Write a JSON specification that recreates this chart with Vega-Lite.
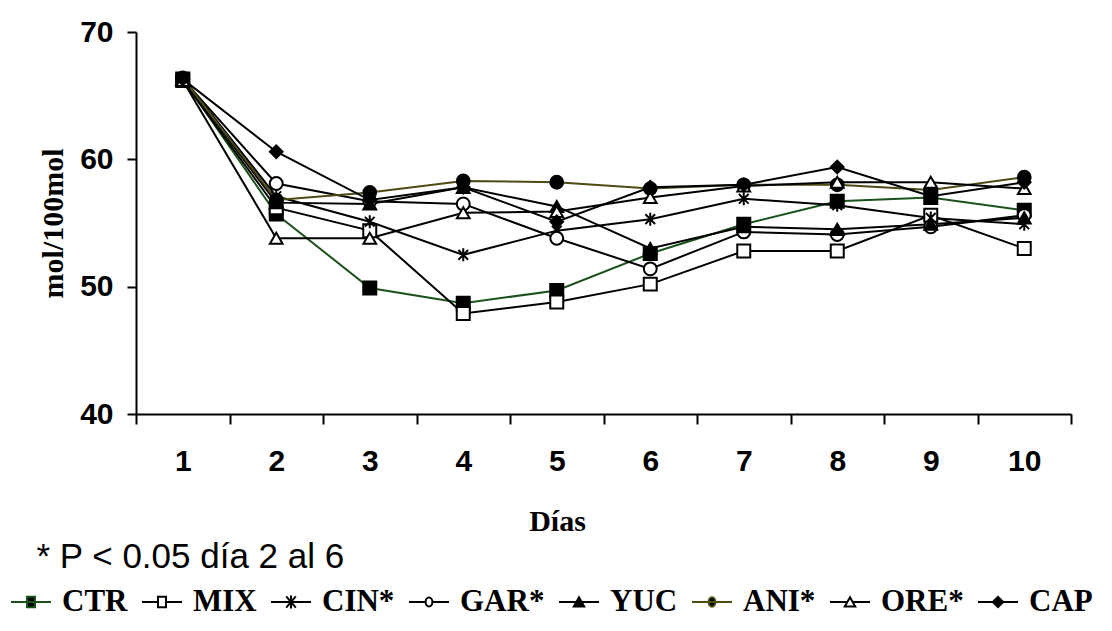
{
  "$schema": "https://vega.github.io/schema/vega-lite/v6.json",
  "width": 935,
  "height": 382,
  "autosize": "none",
  "padding": {"left": 136, "top": 32, "right": 41, "bottom": 217},
  "background": "white",
  "data": {"values": [
    {"day": 1, "series": "CTR", "value": 66.3}, {"day": 2, "series": "CTR", "value": 55.7}, {"day": 3, "series": "CTR", "value": 49.9}, {"day": 4, "series": "CTR", "value": 48.7}, {"day": 5, "series": "CTR", "value": 49.7}, {"day": 6, "series": "CTR", "value": 52.6}, {"day": 7, "series": "CTR", "value": 54.9}, {"day": 8, "series": "CTR", "value": 56.7}, {"day": 9, "series": "CTR", "value": 57.0}, {"day": 10, "series": "CTR", "value": 56.0},
    {"day": 1, "series": "MIX", "value": 66.2}, {"day": 2, "series": "MIX", "value": 56.2}, {"day": 3, "series": "MIX", "value": 54.4}, {"day": 4, "series": "MIX", "value": 47.9}, {"day": 5, "series": "MIX", "value": 48.8}, {"day": 6, "series": "MIX", "value": 50.2}, {"day": 7, "series": "MIX", "value": 52.8}, {"day": 8, "series": "MIX", "value": 52.8}, {"day": 9, "series": "MIX", "value": 55.6}, {"day": 10, "series": "MIX", "value": 53.0},
    {"day": 1, "series": "CIN", "value": 66.4}, {"day": 2, "series": "CIN", "value": 57.1}, {"day": 3, "series": "CIN", "value": 55.1}, {"day": 4, "series": "CIN", "value": 52.5}, {"day": 5, "series": "CIN", "value": 54.4}, {"day": 6, "series": "CIN", "value": 55.3}, {"day": 7, "series": "CIN", "value": 56.9}, {"day": 8, "series": "CIN", "value": 56.4}, {"day": 9, "series": "CIN", "value": 55.4}, {"day": 10, "series": "CIN", "value": 54.9},
    {"day": 1, "series": "GAR", "value": 66.3}, {"day": 2, "series": "GAR", "value": 58.1}, {"day": 3, "series": "GAR", "value": 56.7}, {"day": 4, "series": "GAR", "value": 56.5}, {"day": 5, "series": "GAR", "value": 53.8}, {"day": 6, "series": "GAR", "value": 51.4}, {"day": 7, "series": "GAR", "value": 54.3}, {"day": 8, "series": "GAR", "value": 54.1}, {"day": 9, "series": "GAR", "value": 54.7}, {"day": 10, "series": "GAR", "value": 55.6},
    {"day": 1, "series": "YUC", "value": 66.3}, {"day": 2, "series": "YUC", "value": 56.6}, {"day": 3, "series": "YUC", "value": 56.5}, {"day": 4, "series": "YUC", "value": 57.8}, {"day": 5, "series": "YUC", "value": 56.3}, {"day": 6, "series": "YUC", "value": 53.0}, {"day": 7, "series": "YUC", "value": 54.7}, {"day": 8, "series": "YUC", "value": 54.5}, {"day": 9, "series": "YUC", "value": 54.9}, {"day": 10, "series": "YUC", "value": 55.4},
    {"day": 1, "series": "ANI", "value": 66.4}, {"day": 2, "series": "ANI", "value": 56.8}, {"day": 3, "series": "ANI", "value": 57.4}, {"day": 4, "series": "ANI", "value": 58.3}, {"day": 5, "series": "ANI", "value": 58.2}, {"day": 6, "series": "ANI", "value": 57.7}, {"day": 7, "series": "ANI", "value": 58.0}, {"day": 8, "series": "ANI", "value": 58.0}, {"day": 9, "series": "ANI", "value": 57.6}, {"day": 10, "series": "ANI", "value": 58.6},
    {"day": 1, "series": "ORE", "value": 66.2}, {"day": 2, "series": "ORE", "value": 53.8}, {"day": 3, "series": "ORE", "value": 53.8}, {"day": 4, "series": "ORE", "value": 55.8}, {"day": 5, "series": "ORE", "value": 55.9}, {"day": 6, "series": "ORE", "value": 57.0}, {"day": 7, "series": "ORE", "value": 57.9}, {"day": 8, "series": "ORE", "value": 58.2}, {"day": 9, "series": "ORE", "value": 58.2}, {"day": 10, "series": "ORE", "value": 57.7},
    {"day": 1, "series": "CAP", "value": 66.3}, {"day": 2, "series": "CAP", "value": 60.6}, {"day": 3, "series": "CAP", "value": 56.8}, {"day": 4, "series": "CAP", "value": 57.8}, {"day": 5, "series": "CAP", "value": 55.1}, {"day": 6, "series": "CAP", "value": 57.8}, {"day": 7, "series": "CAP", "value": 58.0}, {"day": 8, "series": "CAP", "value": 59.4}, {"day": 9, "series": "CAP", "value": 57.1}, {"day": 10, "series": "CAP", "value": 58.2}
  ]},
  "encoding": {
    "x": {
      "field": "day", "type": "ordinal",
      "scale": {"type": "band", "paddingInner": 0, "paddingOuter": 0},
      "axis": {
        "title": "Días", "labelAngle": 0, "tickBand": "extent", "tickSize": 10,
        "labelFont": "Liberation Sans", "labelFontWeight": "bold", "labelFontSize": 30, "labelPadding": 22,
        "titleFont": "Liberation Serif", "titleFontWeight": "bold", "titleFontSize": 30, "titlePadding": 30,
        "titleX": 421
      }
    },
    "y": {
      "field": "value", "type": "quantitative",
      "scale": {"domain": [40, 70], "nice": false, "zero": false},
      "axis": {
        "title": "mol/100mol", "values": [40, 50, 60, 70], "tickSize": 9,
        "labelFont": "Liberation Sans", "labelFontWeight": "bold", "labelFontSize": 30, "labelPadding": 14,
        "titleFont": "Liberation Serif", "titleFontWeight": "bold", "titleFontSize": 30, "titlePadding": 11
      }
    }
  },
  "layer": [
    {
      "mark": {"type": "line", "strokeWidth": 2},
      "encoding": {
        "color": {
          "field": "series", "type": "nominal", "legend": null,
          "scale": {"domain": ["CTR", "MIX", "CIN", "GAR", "YUC", "ANI", "ORE", "CAP"],
                    "range": ["#1b521b", "black", "black", "black", "black", "#4d4a12", "black", "black"]}
        }
      }
    },
    {
      "mark": {"type": "point", "filled": true, "stroke": "black", "strokeWidth": 2, "opacity": 1},
      "encoding": {
        "shape": {
          "field": "series", "type": "nominal", "legend": null,
          "scale": {"domain": ["CTR", "MIX", "CIN", "GAR", "YUC", "ANI", "ORE", "CAP"],
                    "range": ["square", "square", "M-0.75,-0.75L0.75,0.75M-0.75,0.75L0.75,-0.75M0,-1V1", "circle", "triangle-up", "circle", "triangle-up", "diamond"]}
        },
        "fill": {
          "field": "series", "type": "nominal", "legend": null,
          "scale": {"domain": ["CTR", "MIX", "CIN", "GAR", "YUC", "ANI", "ORE", "CAP"],
                    "range": ["black", "white", "black", "white", "black", "black", "white", "black"]}
        },
        "size": {
          "field": "series", "type": "nominal", "legend": null,
          "scale": {"domain": ["CTR", "MIX", "CIN", "GAR", "YUC", "ANI", "ORE", "CAP"],
                    "range": [170, 160, 400, 160, 210, 160, 210, 240]}
        }
      }
    },
    {
      "mark": {"type": "point", "filled": true, "strokeWidth": 2, "opacity": 0},
      "encoding": {
        "shape": {
          "field": "series", "type": "nominal",
          "scale": {"domain": ["CTR", "MIX", "CIN", "GAR", "YUC", "ANI", "ORE", "CAP"],
                    "range": [
                      "M-1,0H1M-0.2,-0.26H0.2V0.26H-0.2Z",
                      "M-1,0H-0.2M0.2,0H1M-0.2,-0.26H0.2V0.26H-0.2Z",
                      "M-1,0H1M-0.24,-0.28L0.24,0.28M-0.24,0.28L0.24,-0.28M0,-0.32V0.32",
                      "M-1,0H-0.17M0.17,0H1M-0.17,0A0.17,0.22 0 1,0 0.17,0A0.17,0.22 0 1,0 -0.17,0Z",
                      "M-1,0H1M-0.26,0.22L0,-0.24L0.26,0.22Z",
                      "M-1,0H1M-0.17,0A0.17,0.24 0 1,0 0.17,0A0.17,0.24 0 1,0 -0.17,0Z",
                      "M-1,0H-0.125M0.125,0H1M-0.26,0.22L0,-0.24L0.26,0.22Z",
                      "M-1,0H1M-0.26,0L0,-0.26L0.26,0L0,0.26Z"
                    ]},
          "legend": {"title": "\u200b\u00a0\u00a0\u2009* P < 0.05 día 2 al 6", "orient": "none", "legendX": -126, "legendY": 508, "direction": "horizontal", "columns": 8,
                     "labelExpr": "indexof(['CIN','GAR','ANI','ORE'], datum.label) >= 0 ? datum.label + '*' : datum.label"}
        },
        "fill": {
          "field": "series", "type": "nominal",
          "scale": {"domain": ["CTR", "MIX", "CIN", "GAR", "YUC", "ANI", "ORE", "CAP"],
                    "range": ["black", "white", "black", "white", "black", "black", "white", "black"]},
          "legend": {"title": "\u200b\u00a0\u00a0\u2009* P < 0.05 día 2 al 6", "orient": "none", "legendX": -126, "legendY": 508, "direction": "horizontal", "columns": 8,
                     "labelExpr": "indexof(['CIN','GAR','ANI','ORE'], datum.label) >= 0 ? datum.label + '*' : datum.label"}
        },
        "stroke": {
          "field": "series", "type": "nominal",
          "scale": {"domain": ["CTR", "MIX", "CIN", "GAR", "YUC", "ANI", "ORE", "CAP"],
                    "range": ["#1b521b", "black", "black", "black", "black", "#4d4a12", "black", "black"]},
          "legend": {"title": "\u200b\u00a0\u00a0\u2009* P < 0.05 día 2 al 6", "orient": "none", "legendX": -126, "legendY": 508, "direction": "horizontal", "columns": 8,
                     "labelExpr": "indexof(['CIN','GAR','ANI','ORE'], datum.label) >= 0 ? datum.label + '*' : datum.label"}
        }
      }
    }
  ],
  "resolve": {
    "scale": {"shape": "independent", "fill": "independent", "stroke": "independent", "color": "independent", "size": "independent"},
    "legend": {"shape": "independent", "fill": "independent", "stroke": "independent", "color": "independent", "size": "independent"}
  },
  "config": {
    "view": {"stroke": null},
    "axis": {"grid": false, "domainColor": "black", "tickColor": "black", "labelColor": "black", "titleColor": "black", "domainWidth": 2, "tickWidth": 2},
    "legend": {
      "padding": 0, "symbolSize": 1600, "symbolStrokeWidth": 2, "symbolOpacity": 1,
      "labelFont": "Liberation Serif", "labelFontWeight": "bold", "labelFontSize": 31, "labelColor": "black", "labelOffset": 10, "labelLimit": 300,
      "columnPadding": 10, "titleFont": "Liberation Sans", "titleFontWeight": "normal", "titleFontSize": 35, "titleColor": "black",
      "titleLimit": 1000, "titlePadding": 6, "titleAnchor": "start"
    }
  }
}
